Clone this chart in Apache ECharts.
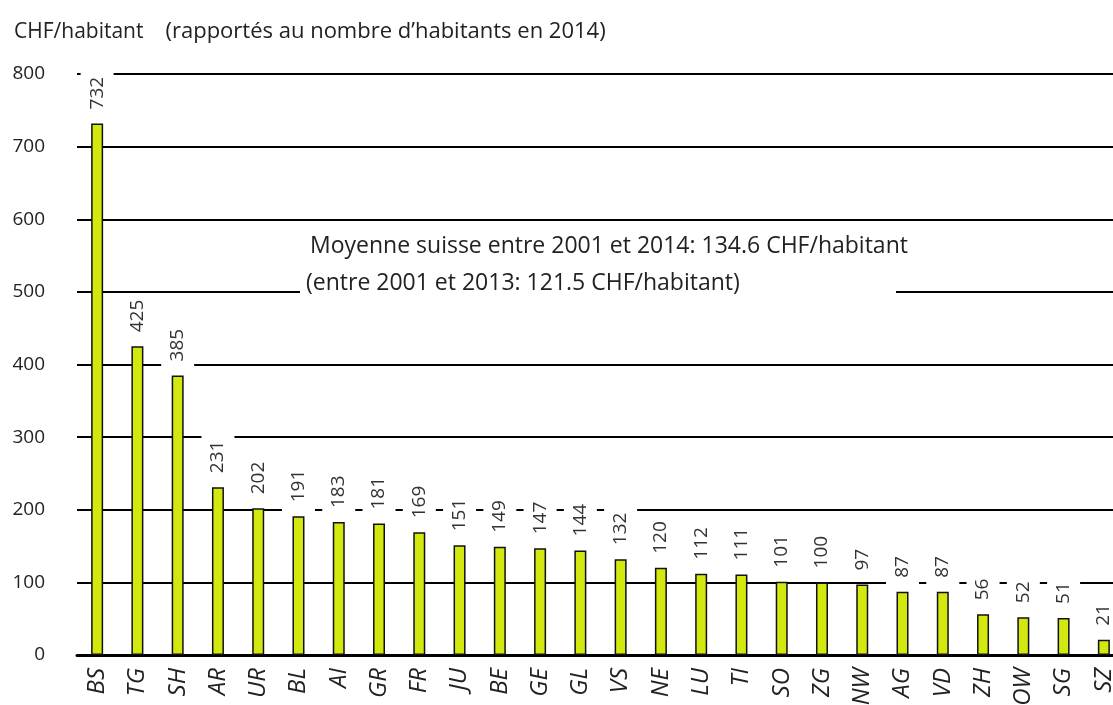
<!DOCTYPE html>
<html>
<head>
<meta charset="utf-8">
<script src="https://cdn.jsdelivr.net/npm/echarts@6/dist/echarts.min.js"></script>
<style>html,body{margin:0;padding:0;background:#fff;overflow:hidden;width:1113px;height:705px}#c{width:1124px;height:705px}</style>
</head>
<body>
<div id="c"></div>
<script>
const cantons = ['BS','TG','SH','AR','UR','BL','AI','GR','FR','JU','BE','GE','GL','VS','NE','LU','TI','SO','ZG','NW','AG','VD','ZH','OW','SG','SZ'];
const values = [732,425,385,231,202,191,183,181,169,151,149,147,144,132,120,112,111,101,100,97,87,87,56,52,51,21];
const yTicks = [0,100,200,300,400,500,600,700,800];
const unitLabel = 'CHF/habitant';
const subLabel = '(rapportés au nombre d\u2019habitants en 2014)';
const noteLines = ['Moyenne suisse entre 2001 et 2014: 134.6 CHF/habitant', '(entre 2001 et 2013: 121.5 CHF/habitant)'];

const FONT = '"Open Sans", "Noto Sans", sans-serif';
const chart = echarts.init(document.getElementById('c'), null, {renderer: 'canvas'});
chart.setOption({
  animation: false,
  backgroundColor: '#fff',
  title: {
    left: 9, top: 16,
    text: '{a|' + unitLabel + '}{b|' + subLabel + '}',
    textStyle: {
      fontWeight: 'normal',
      rich: {
        a: {fontFamily: FONT, fontSize: 21, fontWeight: 'normal', color: '#222', padding: [0, 22, 0, 0]},
        b: {fontFamily: FONT, fontSize: 22, fontWeight: 'normal', color: '#222'}
      }
    }
  },
  grid: {left: 77, top: 74, right: 0, height: 581, containLabel: false, outerBoundsMode: 'none'},
  xAxis: {
    type: 'category',
    data: cantons,
    axisLine: {lineStyle: {color: '#000', width: 3}},
    axisTick: {show: false},
    axisLabel: {rotate: 90, fontStyle: 'italic', fontFamily: FONT, fontSize: 24, color: '#222', margin: 13, interval: 0}
  },
  yAxis: {
    type: 'value',
    min: yTicks[0], max: yTicks[yTicks.length - 1], interval: 100,
    axisLine: {show: false},
    axisTick: {show: false},
    axisLabel: {fontFamily: FONT, fontSize: 19, color: '#222', margin: 32},
    splitLine: {lineStyle: {color: '#000', width: 2}}
  },
  series: [{
    type: 'bar',
    data: values,
    barWidth: 12,
    itemStyle: {color: '#d2e80f', borderColor: '#111', borderWidth: 1.5},
    label: {
      show: true,
      position: 'top',
      rotate: 90,
      align: 'left',
      verticalAlign: 'middle',
      distance: 5,
      padding: [7, 5, 7, 9],
      backgroundColor: '#fff',
      fontFamily: FONT,
      fontSize: 19,
      color: '#333'
    }
  }],
  graphic: [
    {type: 'rect', z: 100, shape: {x: 300, y: 228, width: 596, height: 72}, style: {fill: '#fff'}},
    {type: 'text', z: 101, x: 310, y: 246, style: {text: noteLines[0], font: '23px ' + FONT, fill: '#222', verticalAlign: 'middle'}},
    {type: 'text', z: 101, x: 306, y: 283, style: {text: noteLines[1], font: '23px ' + FONT, fill: '#222', verticalAlign: 'middle'}}
  ]
});
</script>
</body>
</html>
